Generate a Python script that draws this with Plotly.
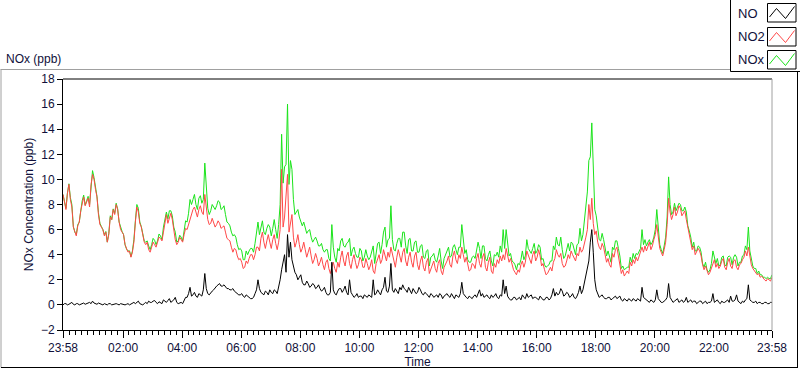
import plotly.graph_objects as go

# ---- data ----
# main samples every 6 minutes from 23:58, and the in-between samples (3 min later)
sample_step_min = 3

no2_ppb = [
    8.8, 7.6, 9.6, 7.8, 5.8, 6.3, 7.5, 8.6, 8.2, 7.8,
    10.4, 9.2, 7.2, 6.2, 5.5, 5.0, 7.0, 7.6, 8.0, 6.6,
    5.8, 4.8, 4.2, 3.8, 5.0, 7.8, 6.5, 5.6, 4.8, 4.4,
    4.6, 4.8, 5.0, 5.3, 5.8, 7.2, 7.0, 6.8, 5.2, 5.0,
    5.2, 5.6, 6.0, 7.0, 7.6, 7.3, 7.6, 7.4, 8.8, 6.8,
    6.5, 6.6, 6.4, 6.5, 6.2, 5.8, 5.2, 4.6, 4.5, 3.9,
    3.7, 2.9, 3.5, 3.7, 4.0, 4.0, 4.6, 5.3, 5.0, 5.1,
    5.0, 5.2, 4.9, 5.0, 10.8, 7.0, 10.4, 6.5, 5.4, 5.0,
    4.8, 4.5, 4.4, 4.2, 3.9, 3.6, 3.7, 3.4, 3.2, 3.4,
    2.9, 3.0, 2.9, 3.4, 3.8, 3.5, 3.9, 3.3, 3.6, 3.4,
    3.2, 3.6, 3.0, 3.3, 3.1, 2.7, 3.3, 4.0, 3.6, 4.0,
    4.2, 4.6, 3.4, 3.8, 3.9, 4.2, 3.5, 3.8, 3.4, 3.9,
    3.2, 3.5, 3.0, 3.4, 2.5, 3.1, 2.9, 3.3, 2.7, 3.0,
    3.5, 3.2, 3.9, 3.6, 4.0, 4.6, 3.4, 3.1, 2.8, 3.2,
    3.7, 3.3, 3.8, 3.0, 3.4, 2.7, 3.3, 3.6, 3.9, 4.0,
    4.5, 3.4, 3.1, 2.6, 2.8, 3.2, 3.0, 4.3, 3.6, 4.0,
    3.5, 4.4, 3.1, 2.8, 2.5, 3.0, 3.4, 4.4, 3.8, 3.3,
    3.1, 4.0, 4.3, 3.8, 4.1, 4.6, 4.4, 5.4, 8.0, 8.5,
    5.6, 5.0, 4.4, 4.6, 3.4, 3.2, 4.1, 4.4, 3.9, 2.5,
    2.3, 2.7, 3.4, 3.6, 3.8, 3.9, 4.6, 4.7, 4.7, 4.4,
    5.2, 6.4, 4.5, 3.9, 5.0, 8.5, 6.8, 7.8, 7.4, 7.7,
    7.3, 6.8, 5.6, 4.4, 4.0, 4.5, 3.9, 2.8, 2.7, 2.6,
    3.4, 3.0, 2.9, 3.5, 3.0, 3.4, 3.1, 3.5, 3.0, 3.2,
    3.6, 4.3, 4.6, 3.2, 2.7, 2.4, 2.2, 2.1, 1.9, 2.0,
    2.2,
]
no2_mid_ppb = [
    8.0, 8.9, 8.4, 6.2, 5.5, 6.6, 8.2, 7.9, 8.5, 9.6,
    10.0, 8.6, 6.4, 6.0, 5.8, 5.6, 6.8, 7.2, 7.6, 6.0,
    5.6, 4.4, 4.3, 4.2, 6.6, 7.4, 6.2, 5.0, 5.0, 4.2,
    5.0, 4.6, 5.4, 5.1, 6.6, 6.5, 7.3, 5.8, 4.8, 5.4,
    5.0, 6.1, 6.4, 7.3, 7.8, 7.0, 7.9, 7.2, 7.6, 6.4,
    6.9, 6.2, 6.7, 6.1, 6.3, 5.3, 5.1, 4.2, 4.4, 3.6,
    3.4, 3.0, 3.3, 4.0, 3.6, 4.6, 4.3, 5.8, 4.5, 5.6,
    4.5, 5.6, 4.4, 6.0, 6.2, 8.6, 5.8, 7.2, 4.6, 5.6,
    4.2, 5.0, 3.8, 4.6, 3.3, 4.1, 3.1, 3.8, 2.8, 3.6,
    2.5, 3.4, 2.6, 3.0, 4.3, 3.1, 4.2, 2.9, 4.0, 2.9,
    3.8, 3.0, 3.7, 2.8, 3.6, 2.5, 3.7, 3.3, 4.4, 3.5,
    3.8, 4.0, 3.0, 4.4, 3.4, 4.5, 3.1, 4.2, 3.0, 4.2,
    2.8, 3.9, 2.7, 3.7, 2.9, 3.5, 2.6, 3.6, 2.4, 3.2,
    3.9, 3.0, 4.3, 3.3, 3.7, 4.0, 3.8, 2.7, 3.3, 2.9,
    4.1, 3.0, 4.1, 2.7, 3.8, 2.5, 3.0, 3.3, 3.5, 3.6,
    3.9, 3.7, 2.8, 2.4, 2.6, 3.5, 3.4, 3.9, 3.3, 4.3,
    3.8, 3.9, 3.3, 2.4, 2.8, 2.7, 3.7, 4.0, 4.1, 3.0,
    3.5, 3.7, 4.0, 3.5, 3.9, 4.2, 4.8, 6.0, 6.8, 6.5,
    5.9, 4.6, 4.9, 4.0, 3.7, 3.0, 3.8, 4.6, 3.2, 2.8,
    2.5, 2.5, 3.1, 3.3, 3.5, 4.2, 4.2, 4.3, 5.0, 4.7,
    5.6, 5.4, 4.2, 4.4, 6.4, 7.4, 7.2, 7.1, 7.9, 7.1,
    7.5, 6.1, 5.0, 4.7, 4.2, 4.3, 3.2, 3.1, 2.4, 3.0,
    3.6, 3.3, 3.1, 3.7, 2.8, 3.7, 2.9, 3.6, 2.8, 3.3,
    3.8, 3.9, 3.9, 2.9, 2.6, 2.5, 2.3, 2.0, 2.1, 1.9,
]

no_ppb = [
    0.0, 0.1, 0.05, 0.2, 0.0, 0.1, 0.05, 0.15, 0.1, 0.2,
    0.3, 0.1, 0.15, 0.05, 0.1, 0.0, 0.1, 0.05, 0.1, 0.0,
    0.05, 0.0, 0.1, 0.05, 0.2, 0.2, 0.1, 0.0, 0.2, 0.3,
    0.2, 0.35, 0.1, 0.2, 0.4, 0.2, 0.5, 0.3, 0.6, 0.1,
    0.2, 0.3, 0.6, 1.4, 0.8, 0.7, 0.9, 0.7, 2.5, 0.9,
    1.0, 1.2, 1.5, 1.7, 1.5, 1.4, 1.3, 1.2, 1.1, 0.9,
    0.8, 0.7, 0.8, 0.6, 0.5, 0.9, 2.0, 1.0, 0.8, 1.0,
    1.2, 0.9, 1.1, 1.4, 2.8, 4.0, 5.6, 5.0, 3.0, 2.4,
    2.2, 1.8, 1.6, 1.7, 1.5, 1.6, 1.4, 1.3, 1.2, 1.0,
    0.8, 3.4, 0.9, 1.1, 1.3, 1.2, 1.0, 2.0, 0.8, 0.7,
    0.6, 0.7, 0.8, 0.6, 0.7, 2.0, 0.9, 1.0, 1.2, 2.2,
    1.0, 3.3, 1.0, 1.1, 1.4, 1.6, 1.2, 1.4, 0.9, 1.1,
    1.0, 1.2, 0.8, 0.9, 0.6, 0.8, 0.7, 0.6, 0.8, 0.7,
    0.9, 0.6, 0.7, 0.8, 0.6, 1.8, 0.7, 0.5, 0.6, 0.7,
    0.6, 1.2, 0.9, 0.7, 0.6, 0.8, 0.7, 0.6, 0.8, 2.0,
    1.5, 0.5, 0.4, 0.6, 0.5, 0.4, 0.6, 0.9, 0.7, 0.5,
    0.6, 0.4, 0.5, 0.4, 0.6, 0.5, 1.3, 1.0, 0.9, 1.1,
    0.8, 0.9, 0.7, 0.6, 0.7, 1.5, 1.2, 2.6, 3.5, 6.0,
    2.0, 0.9, 0.7, 0.6, 0.5, 0.6, 0.5, 0.7, 0.6, 0.4,
    0.5, 0.3, 0.4, 0.5, 0.3, 0.4, 1.4, 0.5, 0.3, 0.4,
    0.2, 1.2, 0.3, 0.2, 0.4, 1.7, 0.4, 0.3, 0.5, 0.3,
    0.2, 0.6, 0.3, 0.2, 0.3, 0.2, 0.3, 0.2, 0.1, 0.2,
    0.9, 0.3, 0.2, 0.3, 0.2, 0.4, 0.7, 0.3, 0.8, 0.2,
    0.3, 0.4, 1.6, 0.3, 0.2, 0.1, 0.2, 0.1, 0.2, 0.1,
    0.2,
]
no_mid_ppb = [
    0.1, 0.0, 0.15, 0.05, 0.1, 0.0, 0.1, 0.05, 0.15, 0.1,
    0.15, 0.05, 0.1, 0.0, 0.05, 0.1, 0.0, 0.1, 0.05, 0.1,
    0.0, 0.05, 0.0, 0.1, 0.1, 0.3, 0.05, 0.1, 0.1, 0.2,
    0.3, 0.2, 0.25, 0.1, 0.3, 0.35, 0.2, 0.4, 0.2, 0.15,
    0.1, 0.6, 0.9, 0.7, 1.0, 0.6, 0.8, 1.2, 1.3, 0.8,
    1.1, 1.4, 1.6, 1.5, 1.6, 1.3, 1.2, 1.3, 1.0, 0.8,
    0.9, 0.6, 0.7, 0.5, 0.6, 1.2, 1.3, 0.9, 1.1, 0.8,
    1.0, 1.2, 0.9, 2.0, 3.5, 2.6, 3.8, 3.6, 2.6, 2.0,
    2.4, 1.6, 1.9, 1.4, 1.7, 1.3, 1.6, 1.1, 1.4, 0.8,
    1.0, 1.2, 0.8, 1.3, 1.0, 1.5, 0.8, 1.0, 0.6, 0.9,
    0.7, 0.5, 0.7, 0.8, 0.6, 0.8, 1.2, 0.8, 1.4, 1.1,
    1.5, 1.2, 1.3, 0.9, 1.2, 1.3, 1.0, 1.1, 1.3, 0.9,
    1.4, 0.9, 1.0, 0.7, 0.9, 0.6, 0.8, 0.9, 0.5, 0.8,
    0.7, 0.9, 0.5, 0.7, 0.9, 0.9, 0.6, 0.7, 0.5, 0.8,
    0.9, 0.7, 0.6, 0.8, 0.5, 0.6, 0.9, 0.5, 0.7, 0.9,
    0.7, 0.4, 0.6, 0.4, 0.6, 0.8, 0.5, 0.6, 0.8, 0.6,
    0.5, 0.7, 0.4, 0.6, 0.4, 0.8, 0.7, 0.8, 1.3, 0.7,
    1.0, 0.6, 0.9, 0.5, 1.0, 0.9, 1.8, 3.0, 5.0, 4.2,
    1.2, 0.6, 0.8, 0.5, 0.6, 0.4, 0.6, 0.5, 0.7, 0.3,
    0.4, 0.5, 0.3, 0.4, 0.5, 0.3, 0.6, 0.4, 0.2, 0.3,
    0.4, 0.5, 0.2, 0.3, 0.6, 0.6, 0.2, 0.4, 0.2, 0.4,
    0.3, 0.2, 0.4, 0.3, 0.1, 0.3, 0.1, 0.3, 0.2, 0.3,
    0.2, 0.4, 0.1, 0.2, 0.3, 0.2, 0.3, 0.4, 0.3, 0.1,
    0.2, 0.5, 0.4, 0.2, 0.3, 0.2, 0.1, 0.2, 0.1, 0.2,
]


def interleave(main, mid):
    out = []
    for k in range(len(mid)):
        out.append(main[k])
        out.append(mid[k])
    out.append(main[-1])
    return out


no2_series = interleave(no2_ppb, no2_mid_ppb)
no_series = interleave(no_ppb, no_mid_ppb)
# NOx is the sum of NO and NO2
nox_series = [a + b for a, b in zip(no_series, no2_series)]
minutes_from_start = [k * sample_step_min for k in range(len(no2_series))]

tick_minutes = [0, 122, 242, 362, 482, 602, 722, 842, 962, 1082, 1202, 1322, 1440]
tick_labels = ["23:58", "02:00", "04:00", "06:00", "08:00", "10:00", "12:00",
               "14:00", "16:00", "18:00", "20:00", "22:00", "23:58"]
y_ticks = list(range(-2, 19, 2))

series_names = ["NO", "NO2", "NOx"]
series_colors = {"NO": "#000000", "NO2": "#ff4848", "NOx": "#1be41b"}

# ---- geometry (pixels) ----
W, H = 800, 369
PL, PR, PT, PB = 63, 772, 79, 330  # plot area


def px(xp):
    return (xp - PL) / (PR - PL)


def py(yp):
    return (PB - yp) / (PB - PT)


FONT = "Liberation Sans, Arial, sans-serif"
TXT = "#10103a"

fig = go.Figure()
fig.add_trace(go.Scatter(x=minutes_from_start, y=nox_series, mode="lines", name="NOx",
                         line=dict(color=series_colors["NOx"], width=1)))
fig.add_trace(go.Scatter(x=minutes_from_start, y=no2_series, mode="lines", name="NO2",
                         line=dict(color=series_colors["NO2"], width=1)))
fig.add_trace(go.Scatter(x=minutes_from_start, y=no_series, mode="lines", name="NO",
                         line=dict(color=series_colors["NO"], width=1)))

shapes = []
# outer sunken frame
shapes.append(dict(type="line", xref="paper", yref="paper", x0=px(0.5), x1=px(731), y0=py(69.5), y1=py(69.5),
                   line=dict(color="#a0a0a0", width=1)))
shapes.append(dict(type="line", xref="paper", yref="paper", x0=px(1), x1=px(1), y0=py(69.5), y1=py(367.5),
                   line=dict(color="#a0a0a0", width=1)))
shapes.append(dict(type="line", xref="paper", yref="paper", x0=px(1), x1=px(798), y0=py(367.5), y1=py(367.5),
                   line=dict(color="#000000", width=1)))
shapes.append(dict(type="line", xref="paper", yref="paper", x0=px(797.5), x1=px(797.5), y0=py(69.5), y1=py(367.5),
                   line=dict(color="#000000", width=1)))
# plot area top (black) and right (gray) borders
shapes.append(dict(type="line", xref="paper", yref="paper", x0=0, x1=1, y0=1, y1=1,
                   line=dict(color="#000000", width=1)))
shapes.append(dict(type="line", xref="paper", yref="paper", x0=1, x1=1, y0=0, y1=1,
                   line=dict(color="#a0a0a0", width=1)))
# legend box
shapes.append(dict(type="rect", xref="paper", yref="paper", x0=px(730.5), x1=px(802), y0=py(-2), y1=py(71.5),
                   line=dict(color="#000000", width=1), fillcolor="white"))

annotations = []
swatch_tops = [3.5, 27.5, 50.5]
text_centers = [13.5, 36.5, 59.5]
for name, top, tc in zip(series_names, swatch_tops, text_centers):
    shapes.append(dict(type="rect", xref="paper", yref="paper", x0=px(767.5), x1=px(796), y0=py(top), y1=py(top + 18.5),
                       line=dict(color="#000000", width=1), fillcolor="white"))
    zx = [769.5, 776.5, 785.5, 794.5]
    zy = [top + 13.5, top + 5, top + 15, top + 3]
    path = "M {} {} L {} {} L {} {} L {} {}".format(
        px(zx[0]), py(zy[0]), px(zx[1]), py(zy[1]), px(zx[2]), py(zy[2]), px(zx[3]), py(zy[3]))
    shapes.append(dict(type="path", xref="paper", yref="paper", path=path,
                       line=dict(color=series_colors[name], width=1)))
    annotations.append(dict(text=name, xref="paper", yref="paper", x=px(736), y=py(tc),
                            xanchor="left", yanchor="middle", showarrow=False,
                            font=dict(family=FONT, size=13, color=TXT)))

annotations.append(dict(text="NOx (ppb)", xref="paper", yref="paper", x=px(4), y=py(59),
                        xanchor="left", yanchor="middle", showarrow=False,
                        font=dict(family=FONT, size=12, color=TXT)))

fig.update_layout(
    width=W, height=H, autosize=False,
    margin=dict(l=PL, r=W - PR, t=PT, b=H - PB, pad=0),
    paper_bgcolor="white", plot_bgcolor="white",
    showlegend=False,
    shapes=shapes, annotations=annotations,
    font=dict(family=FONT, size=11, color=TXT),
)
fig.update_xaxes(
    range=[0, 1440], tickmode="array", tickvals=tick_minutes, ticktext=tick_labels,
    ticks="outside", ticklen=7, tickcolor="black", tickwidth=1,
    showline=True, linecolor="black", linewidth=1, showgrid=False, zeroline=False,
    minor=dict(tickmode="linear", tick0=2, dtick=12, ticks="outside", ticklen=4,
               tickcolor="black", showgrid=False),
    tickfont=dict(family=FONT, size=12, color=TXT),
    title=dict(text="Time", font=dict(family=FONT, size=12, color=TXT), standoff=4),
    automargin=False,
)
fig.update_yaxes(
    range=[-2, 18], tickmode="array", tickvals=y_ticks,
    ticks="outside", ticklen=5, tickcolor="black", tickwidth=1,
    showline=True, linecolor="black", linewidth=1, showgrid=False, zeroline=False,
    tickfont=dict(family=FONT, size=12, color=TXT),
    title=dict(text="NOx Concentration (ppb)", font=dict(family=FONT, size=12, color=TXT), standoff=4),
    automargin=False,
)

fig.write_html("out.html", config={"displayModeBar": False},
               post_script="document.body.style.margin='0px';document.body.style.overflow='hidden';")
